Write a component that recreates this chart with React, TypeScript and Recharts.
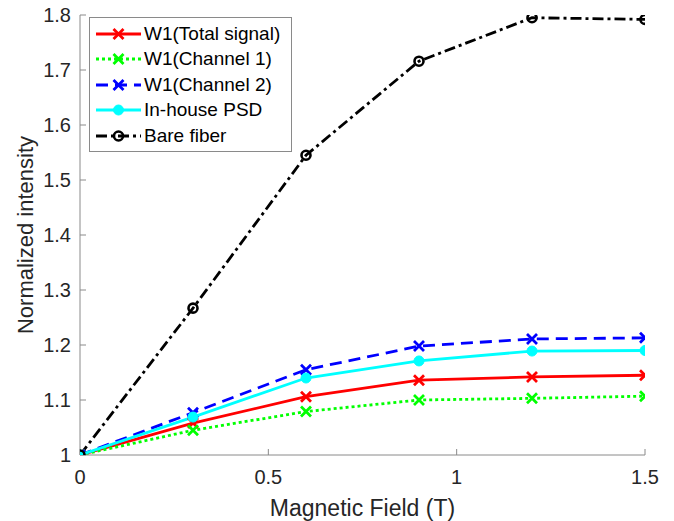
import { Legend, Line, LineChart, XAxis, YAxis } from 'recharts';

const fieldT = [0, 0.3, 0.6, 0.9, 1.2, 1.5];
const totalSignal = [1, 1.058, 1.106, 1.136, 1.142, 1.145];
const channel1 = [1, 1.045, 1.079, 1.1, 1.103, 1.107];
const channel2 = [1, 1.077, 1.155, 1.198, 1.211, 1.213];
const inHousePsd = [1, 1.069, 1.14, 1.171, 1.189, 1.19];
const bareFiber = [1, 1.267, 1.545, 1.716, 1.795, 1.792];

const xTicks = [0, 0.5, 1, 1.5];
const yTicks = [1, 1.1, 1.2, 1.3, 1.4, 1.5, 1.6, 1.7, 1.8];

const chartData = fieldT.map((x, i) => ({
  x,
  total: totalSignal[i],
  ch1: channel1[i],
  ch2: channel2[i],
  psd: inHousePsd[i],
  bare: bareFiber[i],
}));

type Marker = 'cross' | 'disc' | 'ring';

const seriesList: {
  key: string;
  name: string;
  color: string;
  dash?: string;
  marker: Marker;
}[] = [
  { key: 'total', name: 'W1(Total signal)', color: '#ff0000', marker: 'cross' },
  { key: 'ch1', name: 'W1(Channel 1)', color: '#00ff00', dash: '3 3', marker: 'cross' },
  { key: 'ch2', name: 'W1(Channel 2)', color: '#0000ff', dash: '12 7', marker: 'cross' },
  { key: 'psd', name: 'In-house PSD', color: '#00ffff', marker: 'disc' },
  { key: 'bare', name: 'Bare fiber', color: '#000000', dash: '11 4 3 4', marker: 'ring' },
];

const axisGray = '#8a8a8a';
const font = '"Liberation Sans", Arial, sans-serif';

function markerShape(marker: Marker, color: string, cx: number, cy: number, key?: string) {
  if (marker === 'cross') {
    const r = 5;
    return (
      <path
        key={key}
        d={`M${cx - r},${cy - r}L${cx + r},${cy + r}M${cx - r},${cy + r}L${cx + r},${cy - r}`}
        stroke={color}
        strokeWidth={2.8}
        fill='none'
      />
    );
  }
  if (marker === 'disc') {
    return <circle key={key} cx={cx} cy={cy} r={5} fill={color} stroke={color} />;
  }
  return <circle key={key} cx={cx} cy={cy} r={4.5} fill='none' stroke={color} strokeWidth={2.6} />;
}

function LegendBox() {
  return (
    <div
      style={{
        border: `1px solid ${axisGray}`,
        background: '#fff',
        width: 201,
        padding: '3px 0 2px 0',
        fontFamily: font,
        fontSize: 19,
        color: '#000',
        boxSizing: 'content-box',
      }}
    >
      {seriesList.map(s => (
        <div key={s.key} style={{ display: 'flex', alignItems: 'center', height: 25.5 }}>
          <svg width={54} height={20} style={{ flex: 'none' }}>
            <line
              x1={6}
              x2={51}
              y1={10}
              y2={10}
              stroke={s.color}
              strokeWidth={2.8}
              strokeDasharray={s.dash}
            />
            {markerShape(s.marker, s.color, 28.5, 10)}
          </svg>
          <span style={{ whiteSpace: 'nowrap' }}>{s.name}</span>
        </div>
      ))}
    </div>
  );
}

export default function App() {
  const tickStyle = { fill: '#262626', fontSize: 20, fontFamily: font };
  return (
    <div style={{ position: 'absolute', left: 0, top: 0, background: '#fff' }}>
      <LineChart
        width={674}
        height={521}
        data={chartData}
        margin={{ top: 15, right: 29, bottom: 0, left: 0 }}
      >
        <XAxis
          dataKey='x'
          type='number'
          domain={[0, 1.5]}
          ticks={xTicks}
          allowDataOverflow
          height={66}
          tickSize={-6}
          tickMargin={21}
          stroke={axisGray}
          tick={tickStyle}
          tickFormatter={v => String(v)}
          label={{
            value: 'Magnetic Field (T)',
            position: 'insideBottom',
            offset: 5,
            style: { fill: '#262626', fontSize: 23, fontFamily: font },
          }}
        />
        <XAxis
          xAxisId='top'
          orientation='top'
          dataKey='x'
          type='number'
          domain={[0, 1.5]}
          ticks={xTicks}
          allowDataOverflow
          height={0}
          tickSize={-6}
          stroke={axisGray}
          tick={false}
        />
        <YAxis
          type='number'
          domain={[1, 1.8]}
          ticks={yTicks}
          allowDataOverflow
          width={80}
          tickSize={-6}
          tickMargin={15}
          stroke={axisGray}
          tick={tickStyle}
          tickFormatter={v => String(Math.round(v * 10) / 10)}
          label={{
            value: 'Normalized intensity',
            angle: -90,
            position: 'insideLeft',
            offset: 25,
            style: { fill: '#262626', fontSize: 22, fontFamily: font, textAnchor: 'middle' },
          }}
        />
        <YAxis
          yAxisId='right'
          orientation='right'
          type='number'
          domain={[1, 1.8]}
          ticks={yTicks}
          allowDataOverflow
          width={0}
          tickSize={-6}
          stroke={axisGray}
          tick={false}
        />
        {seriesList.map(s => (
          <Line
            key={s.key}
            dataKey={s.key}
            name={s.name}
            type='linear'
            stroke={s.color}
            strokeWidth={2.8}
            strokeDasharray={s.dash}
            isAnimationActive={false}
            dot={(p: any) => markerShape(s.marker, s.color, p.cx, p.cy, `${s.key}-${p.index}`)}
            activeDot={false}
          />
        ))}
        <Legend
          layout='horizontal'
          verticalAlign='middle'
          align='center'
          content={() => <LegendBox />}
          wrapperStyle={{ position: 'absolute', left: 89, top: 17, width: 'auto' }}
        />
      </LineChart>
    </div>
  );
}
